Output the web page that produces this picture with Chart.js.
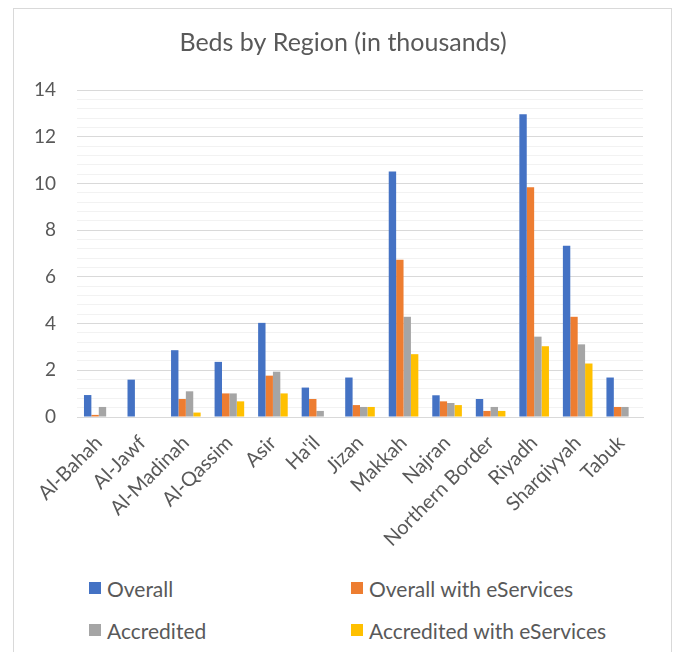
<!DOCTYPE html>
<html>
<head>
<meta charset="utf-8">
<script src="https://cdn.jsdelivr.net/npm/chart.js@4.4.1/dist/chart.umd.min.js"></script>
<style>
  html, body { margin: 0; padding: 0; background: #fff; }
  body { width: 678px; height: 652px; position: relative; overflow: hidden; font-family: Lato, "Open Sans", sans-serif; }
  .frame { position: absolute; left: 13px; top: 8px; width: 659px; height: 680px; border: 1px solid #d9d9d9; box-sizing: border-box; }
  .plot { position: absolute; left: 14px; top: 9px; width: 658px; height: 551px; }
  .legend { position: absolute; left: 0; top: 0; }
  .legend .item { position: absolute; display: flex; align-items: center; font-size: 21px; color: #595959; white-space: nowrap; }
  .legend .sw { width: 12px; height: 12px; margin-right: 6px; }
</style>
</head>
<body>
<div class="frame"></div>
<div class="plot"><canvas id="chart"></canvas></div>
<div class="legend" id="legend"></div>
<script>
// Beds by region, in thousands
const REGIONS = ["Al-Bahah", "Al-Jawf", "Al-Madinah", "Al-Qassim", "Asir", "Ha'il", "Jizan",
  "Makkah", "Najran", "Northern Border", "Riyadh", "Sharqiyyah", "Tabuk"];

const OVERALL       = [0.94, 1.6, 2.86, 2.36, 4.03, 1.26, 1.69, 10.51, 0.93, 0.77, 12.96, 7.33, 1.69];
const OVERALL_ESERV = [0.09, 0, 0.77, 1.01, 1.77, 0.77, 0.51, 6.73, 0.67, 0.26, 9.84, 4.29, 0.43];
const ACCREDITED    = [0.43, 0, 1.1, 1.01, 1.94, 0.26, 0.43, 4.29, 0.6, 0.43, 3.44, 3.11, 0.43];
const ACCRED_ESERV  = [0, 0, 0.19, 0.67, 1.01, 0, 0.43, 2.69, 0.51, 0.26, 3.03, 2.29, 0];

const SERIES_NAMES = ["Overall", "Overall with eServices", "Accredited", "Accredited with eServices"];
const COLORS = ["#4472C4", "#ED7D31", "#A5A5A5", "#FFC000"];

const Y_MAX = 14;
const Y_STEP = 0.4;   // minor gridlines
const Y_MAJOR = 2;    // labelled gridlines

const TEXT = "#595959";
const FONT = "Lato, 'Open Sans', sans-serif";

function isMajor(v) {
  const r = v / Y_MAJOR;
  return Math.abs(r - Math.round(r)) < 1e-6;
}

const seriesData = [OVERALL, OVERALL_ESERV, ACCREDITED, ACCRED_ESERV];

new Chart(document.getElementById("chart"), {
  type: "bar",
  data: {
    labels: REGIONS,
    datasets: seriesData.map((d, i) => ({
      label: SERIES_NAMES[i],
      data: d,
      backgroundColor: COLORS[i],
      borderWidth: 0,
      barPercentage: 1,
      categoryPercentage: 0.68,
    })),
  },
  options: {
    responsive: true,
    maintainAspectRatio: false,
    animation: false,
    layout: { padding: 0 },
    plugins: {
      legend: { display: false },
      tooltip: { enabled: false },
      title: {
        display: true,
        text: "Beds by Region (in thousands)",
        color: TEXT,
        font: { family: FONT, size: 25, weight: "normal" },
        padding: { top: 19, bottom: 32 },
      },
    },
    scales: {
      x: {
        grid: { display: false },
        border: { color: "#d9d9d9", width: 1 },
        ticks: {
          color: TEXT,
          font: { family: FONT, size: 20 },
          minRotation: 45,
          maxRotation: 45,
          autoSkip: false,
          padding: 6,
        },
        afterFit: (s) => { s.height = 143; },
      },
      y: {
        min: 0,
        max: Y_MAX,
        border: { display: false },
        grid: {
          drawTicks: false,
          color: (ctx) => isMajor(ctx.tick.value) ? "#d9d9d9" : "#f2f2f2",
          lineWidth: 1,
        },
        ticks: {
          stepSize: Y_STEP,
          autoSkip: false,
          color: TEXT,
          font: { family: FONT, size: 19 },
          padding: 21,
          callback: (v) => isMajor(v) ? String(Math.round(v)) : "",
        },
        afterFit: (s) => { s.width = 63; },
      },
      // empty right-hand axis: keeps the plot clear of the right edge while the title stays centred
      yRight: {
        position: "right",
        grid: { display: false },
        border: { display: false },
        ticks: { display: false },
        afterFit: (s) => { s.width = 29; },
      },
    },
  },
});

// legend laid out in two fixed columns like the original
const LEGEND_POS = [
  { x: 89, y: 588 }, { x: 351, y: 588 },
  { x: 89, y: 630 }, { x: 351, y: 630 },
];
document.getElementById("legend").innerHTML = SERIES_NAMES.map((name, i) => `
  <div class="item" style="left:${LEGEND_POS[i].x}px; top:${LEGEND_POS[i].y - 13}px; height:26px">
    <span class="sw" style="background:${COLORS[i]}"></span>${name}
  </div>
`).join("");
</script>
</body>
</html>
